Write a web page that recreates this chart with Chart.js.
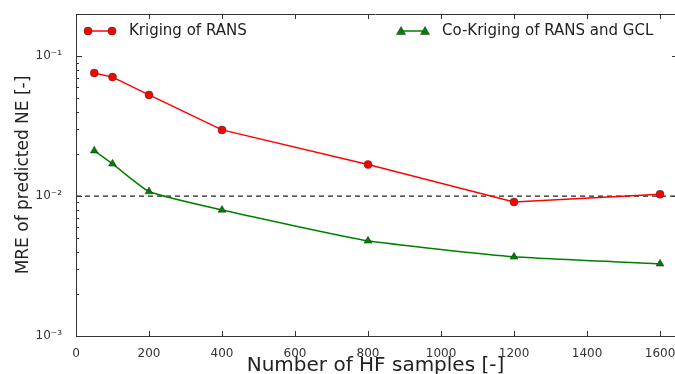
<!DOCTYPE html>
<html>
<head>
<meta charset="utf-8">
<script src="https://cdn.jsdelivr.net/npm/chart.js@4.4.1/dist/chart.umd.min.js"></script>
<style>
  html, body { margin: 0; padding: 0; background: #fff; overflow: hidden; }
  #wrap { width: 675px; height: 374px; }
</style>
</head>
<body>
<div id="wrap"><canvas id="myChart" width="675" height="374"></canvas></div>
<script>
const samples = [50, 100, 200, 400, 800, 1200, 1600];
const kriging = [0.0757, 0.0708, 0.0528, 0.0297, 0.0168, 0.00906, 0.0103];
const coKriging = [0.0211, 0.0170, 0.01077, 0.00795, 0.00479, 0.00368, 0.00328];
const refX = [0, 1641];
const refY = [0.01, 0.01];
const xTicks = [0, 200, 400, 600, 800, 1000, 1200, 1400, 1600];
const yLabels = { 0.1: '10\u207B\u00B9', 0.01: '10\u207B\u00B2', 0.001: '10\u207B\u00B3' };

const ctx = document.getElementById('myChart');
const FONT = '"DejaVu Sans", sans-serif';

function pts(xs, ys) {
  return xs.map((x, i) => ({ x: x, y: ys[i] }));
}

// inward ticks + top frame + legend inside the plot (right frame sits just off-canvas)
const frameTicks = {
  id: 'frameTicks',
  afterDraw(chart) {
    const c = chart.ctx, a = chart.chartArea;
    const xs = chart.scales.x, ys = chart.scales.y;
    c.save();
    c.strokeStyle = '#333';
    c.lineWidth = 1;
    c.beginPath();
    c.moveTo(a.left, a.top + 0.5); c.lineTo(a.right, a.top + 0.5);
    xTicks.forEach(v => {
      const px = Math.round(xs.getPixelForValue(v)) + 0.5;
      c.moveTo(px, a.bottom); c.lineTo(px, a.bottom - 5);
      c.moveTo(px, a.top); c.lineTo(px, a.top + 5);
    });
    [0.001, 0.01, 0.1].forEach(d => {
      for (let k = 1; k <= 9; k++) {
        const v = d * k;
        if (v > ys.max) break;
        const py = Math.round(ys.getPixelForValue(v)) + 0.5;
        const len = k === 1 ? 6 : 3;
        c.moveTo(a.left, py); c.lineTo(a.left + len, py);
        if (k === 1) { c.moveTo(a.right, py); c.lineTo(a.right - 3, py); }
      }
    });
    c.stroke();

    // legend
    const items = [
      { label: 'Kriging of RANS', color: '#ff0000', shape: 'circle', x: 88 },
      { label: 'Co-Kriging of RANS and GCL', color: '#008000', shape: 'triangle', x: 401 }
    ];
    const ly = 31;
    items.forEach(it => {
      c.strokeStyle = it.color;
      c.lineWidth = 1.5;
      c.beginPath(); c.moveTo(it.x, ly); c.lineTo(it.x + 24, ly); c.stroke();
      [it.x, it.x + 24].forEach(mx => {
        c.beginPath();
        if (it.shape === 'circle') {
          c.arc(mx, ly, 4, 0, Math.PI * 2);
        } else {
          c.moveTo(mx, ly - 4.5); c.lineTo(mx + 4.5, ly + 3.5); c.lineTo(mx - 4.5, ly + 3.5); c.closePath();
        }
        c.fillStyle = it.color; c.fill();
        c.strokeStyle = '#222'; c.lineWidth = 0.5; c.stroke();
      });
      c.fillStyle = '#222';
      c.font = '15px ' + FONT;
      c.textBaseline = 'middle';
      c.textAlign = 'left';
      c.fillText(it.label, it.x + 41, ly);
    });
    c.restore();
  }
};

const chart = new Chart(ctx, {
  type: 'line',
  data: {
    datasets: [
      {
        label: 'ref',
        data: pts(refX, refY),
        borderColor: '#222',
        borderWidth: 1.2,
        borderDash: [5, 4],
        pointRadius: 0,
        order: 3
      },
      {
        label: 'Kriging of RANS',
        data: pts(samples, kriging),
        borderColor: '#ff0000',
        backgroundColor: '#ff0000',
        borderWidth: 1.5,
        pointStyle: 'circle',
        pointRadius: 4,
        pointBorderColor: '#333',
        pointBorderWidth: 0.5,
        tension: 0,
        order: 1
      },
      {
        label: 'Co-Kriging of RANS and GCL',
        data: pts(samples, coKriging),
        borderColor: '#008000',
        backgroundColor: '#008000',
        borderWidth: 1.5,
        pointStyle: 'triangle',
        pointRadius: 4.5,
        pointBorderColor: '#222',
        pointBorderWidth: 0.5,
        tension: 0.15,
        order: 2
      }
    ]
  },
  options: {
    responsive: false,
    animation: false,
    layout: { autoPadding: false, padding: { top: 14, right: 0, left: 0, bottom: 0 } },
    plugins: {
      legend: { display: false },
      tooltip: { enabled: false }
    },
    scales: {
      x: {
        type: 'linear',
        min: 0,
        max: 1641,
        grid: { display: false },
        border: { display: true, color: '#333', width: 1 },
        afterBuildTicks: s => { s.ticks = xTicks.map(v => ({ value: v })); },
        afterFit: s => { s.height = 38; s.paddingRight = 0; s.paddingLeft = 0; },
        ticks: {
          color: '#333',
          font: { family: FONT, size: 12 },
          padding: 3,
          maxRotation: 0,
          autoSkip: false,
          callback: v => String(v)
        },
        title: {
          display: true,
          text: 'Number of HF samples [-]',
          color: '#222',
          font: { family: FONT, size: 20 },
          padding: { top: 0, bottom: -4 }
        }
      },
      y: {
        type: 'logarithmic',
        min: 0.001,
        max: 0.2,
        grid: { display: false },
        border: { display: true, color: '#333', width: 1 },
        afterBuildTicks: s => { s.ticks = [0.001, 0.01, 0.1].map(v => ({ value: v })); },
        afterFit: s => { s.width = 76; s.paddingTop = 0; s.paddingBottom = 0; },
        ticks: {
          color: '#333',
          font: { family: FONT, size: 12 },
          padding: 6,
          callback: v => yLabels[v] || ''
        },
        title: {
          display: true,
          text: 'MRE of predicted NE [-]',
          color: '#222',
          font: { family: FONT, size: 17 },
          padding: { top: 13, bottom: 0 }
        }
      }
    }
  },
  plugins: [frameTicks]
});
</script>
</body>
</html>
